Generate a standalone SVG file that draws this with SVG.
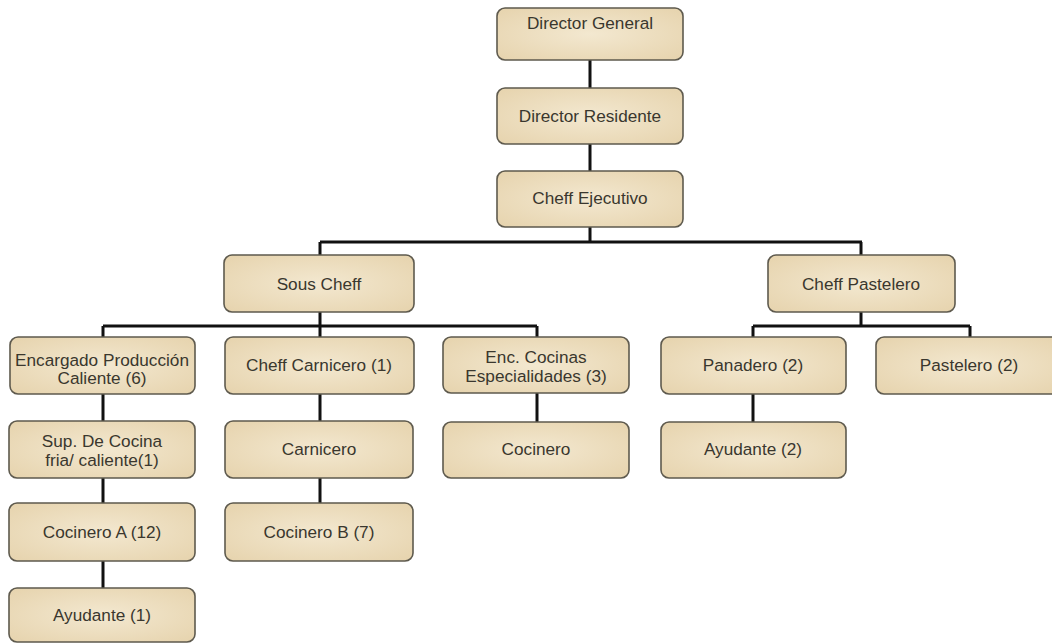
<svg xmlns="http://www.w3.org/2000/svg" width="1052" height="643" viewBox="0 0 1052 643">
<defs>
<radialGradient id="parch" cx="50%" cy="50%" r="70%">
<stop offset="0" stop-color="#f3e8d0"/>
<stop offset="1" stop-color="#e6d3ad"/>
</radialGradient>
</defs>
<style>
.box{fill:url(#parch);stroke:#5e5a4e;stroke-width:1.6}
.t{font-family:"Liberation Sans",Arial,sans-serif;font-size:17.2px;fill:#3a372e;text-anchor:middle}
.c{stroke:#111;stroke-width:3;fill:none}
</style>
<rect width="1052" height="643" fill="#ffffff"/>
<g id="connectors">
<path class="c" d="M590 60V88M590 144V171M590 227V242M320 242H862M320 242V255M861 242V255"/>
<path class="c" d="M320 312V326M103 326H537M103 326V337M320 326V337M537 326V337"/>
<path class="c" d="M861 312V326M753 326H970M753 326V337M970 326V337"/>
<path class="c" d="M103 394V421M103 478V503M103 561V588"/>
<path class="c" d="M320 394V421M320 478V503"/>
<path class="c" d="M537 393V422"/>
<path class="c" d="M753 394V422"/>
</g>
<g id="director-general"><rect class="box" x="497" y="8" width="186" height="52" rx="8"/><text class="t" x="590" y="29">Director General</text></g>
<g id="director-residente"><rect class="box" x="497" y="88" width="186" height="56" rx="8"/><text class="t" x="590" y="122">Director Residente</text></g>
<g id="cheff-ejecutivo"><rect class="box" x="497" y="171" width="186" height="56" rx="8"/><text class="t" x="590" y="204">Cheff Ejecutivo</text></g>
<g id="sous-cheff"><rect class="box" x="224" y="255" width="190" height="57" rx="8"/><text class="t" x="319" y="290">Sous Cheff</text></g>
<g id="cheff-pastelero"><rect class="box" x="768" y="255" width="187" height="57" rx="8"/><text class="t" x="861" y="290">Cheff Pastelero</text></g>
<g id="encargado"><rect class="box" x="10" y="337" width="185" height="57" rx="8"/><text class="t" x="102" y="366">Encargado Producción</text><text class="t" x="102" y="384">Caliente (6)</text></g>
<g id="cheff-carnicero"><rect class="box" x="225" y="337" width="189" height="57" rx="8"/><text class="t" x="319" y="371">Cheff Carnicero (1)</text></g>
<g id="enc-cocinas"><rect class="box" x="443" y="337" width="186" height="56" rx="8"/><text class="t" x="536" y="363">Enc. Cocinas</text><text class="t" x="536" y="382">Especialidades (3)</text></g>
<g id="panadero"><rect class="box" x="661" y="337" width="185" height="57" rx="8"/><text class="t" x="753" y="371">Panadero (2)</text></g>
<g id="pastelero"><rect class="box" x="876" y="337" width="188" height="57" rx="8"/><text class="t" x="969" y="371">Pastelero (2)</text></g>
<g id="sup-cocina"><rect class="box" x="9" y="421" width="186" height="57" rx="8"/><text class="t" x="102" y="447">Sup. De Cocina</text><text class="t" x="102" y="466">fria/ caliente(1)</text></g>
<g id="carnicero"><rect class="box" x="225" y="421" width="188" height="57" rx="8"/><text class="t" x="319" y="455">Carnicero</text></g>
<g id="cocinero"><rect class="box" x="443" y="422" width="186" height="56" rx="8"/><text class="t" x="536" y="455">Cocinero</text></g>
<g id="ayudante-2"><rect class="box" x="661" y="422" width="185" height="56" rx="8"/><text class="t" x="753" y="455">Ayudante  (2)</text></g>
<g id="cocinero-a"><rect class="box" x="9" y="503" width="186" height="58" rx="8"/><text class="t" x="102" y="538">Cocinero A (12)</text></g>
<g id="cocinero-b"><rect class="box" x="225" y="503" width="188" height="58" rx="8"/><text class="t" x="319" y="538">Cocinero B (7)</text></g>
<g id="ayudante-1"><rect class="box" x="9" y="588" width="186" height="54" rx="8"/><text class="t" x="102" y="621">Ayudante  (1)</text></g>
</svg>
